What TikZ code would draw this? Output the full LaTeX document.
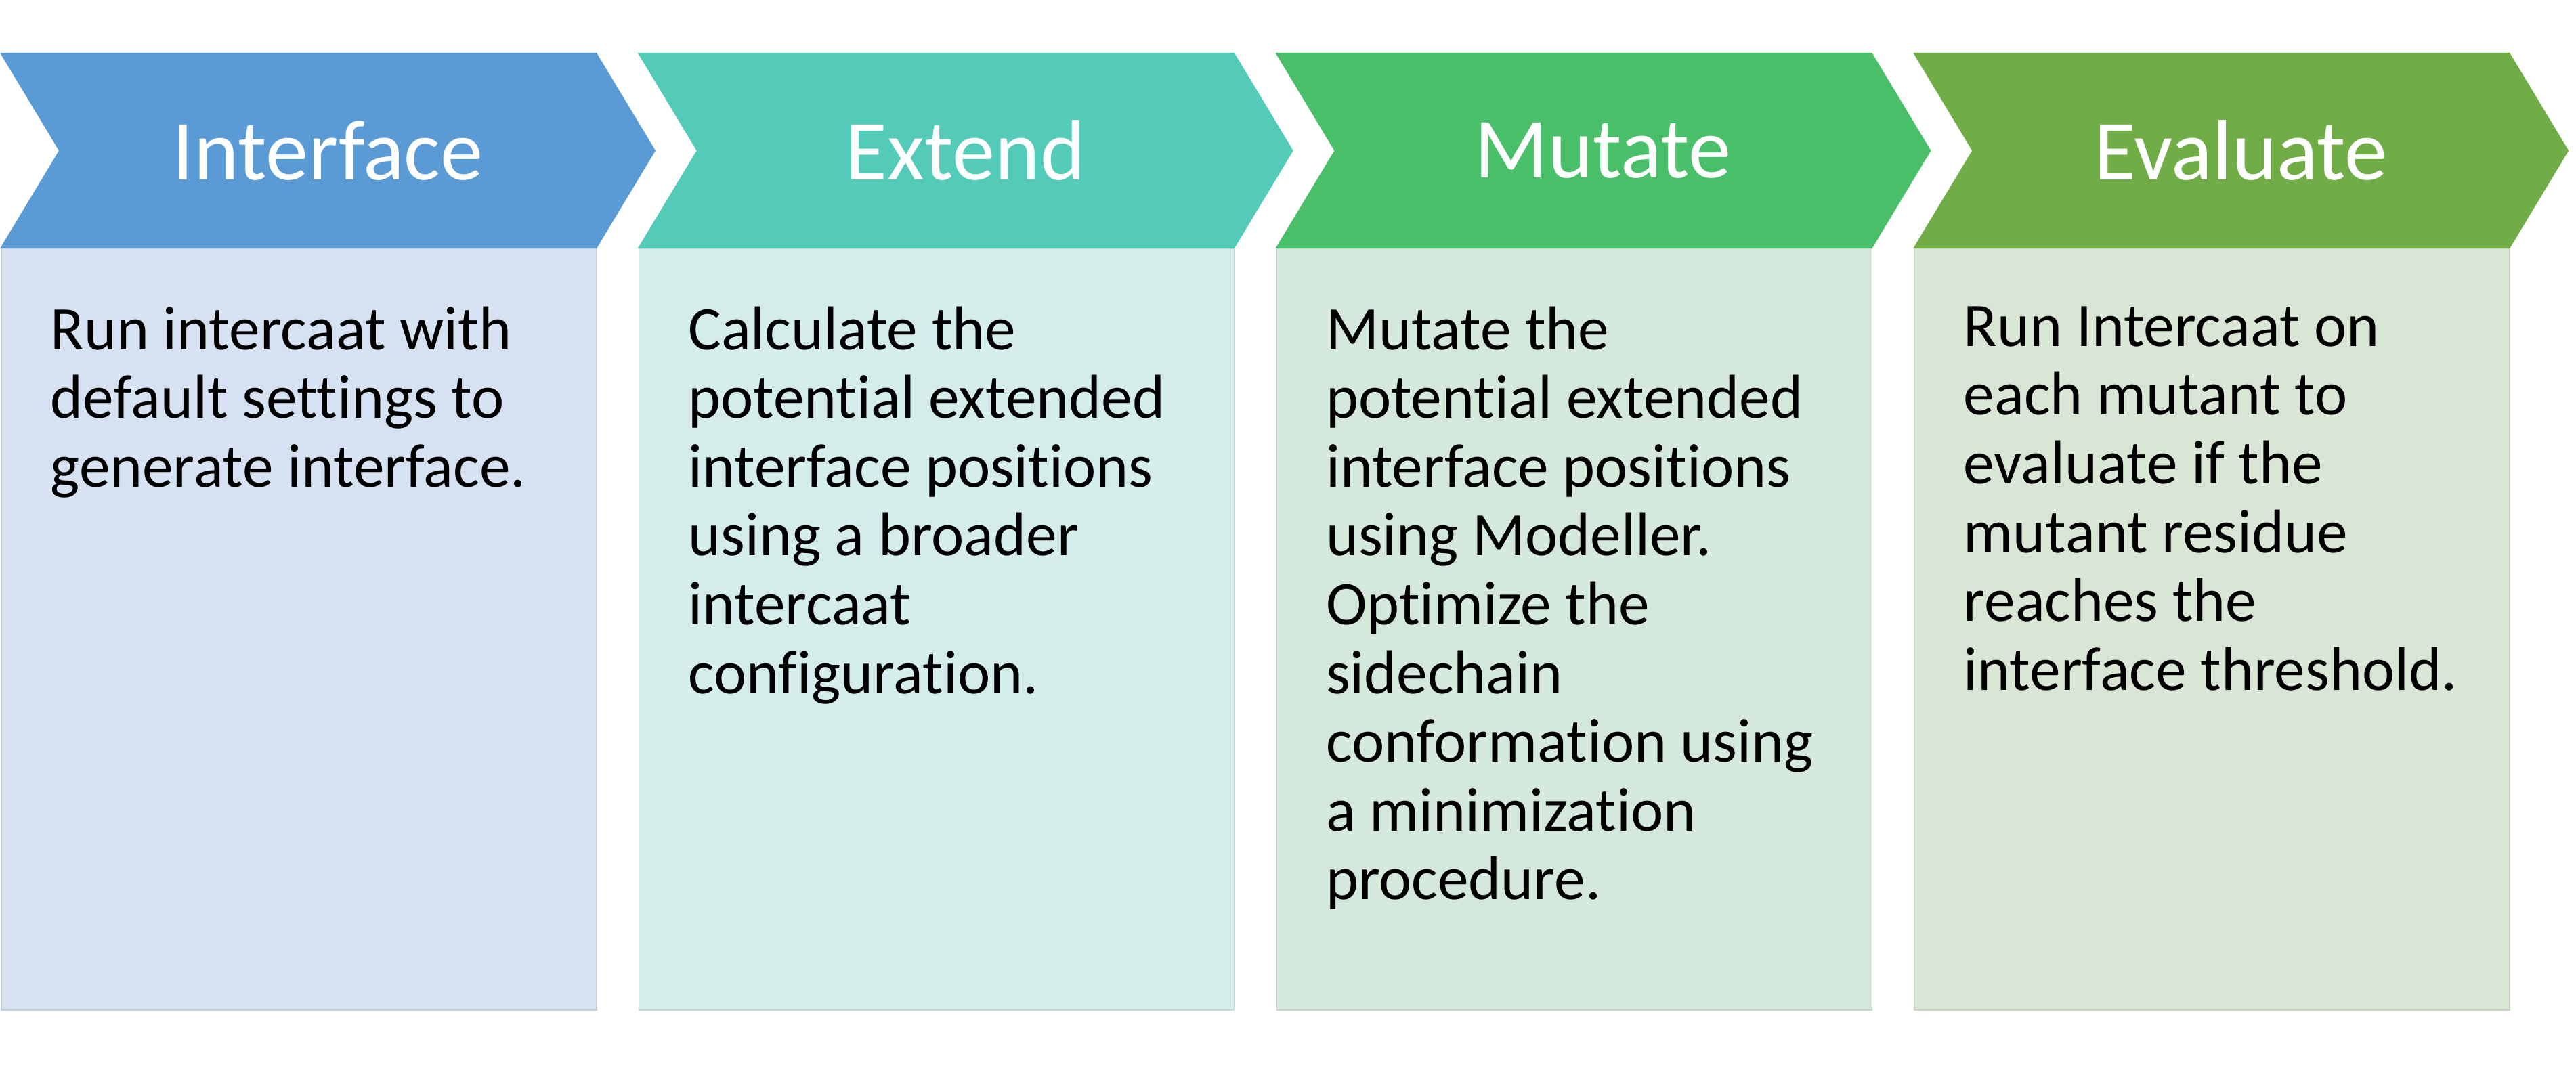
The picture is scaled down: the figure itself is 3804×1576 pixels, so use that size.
\documentclass[tikz,border=0pt]{standalone}
\usepackage{fontspec}
\setmainfont{Carlito}[Ligatures=NoCommon]
\usepackage{tikz}
\usetikzlibrary{math}

\definecolor{chevA}{HTML}{5B9BD5}
\definecolor{chevB}{HTML}{53CBB8}
\definecolor{chevC}{HTML}{4ABF69}
\definecolor{chevD}{HTML}{70AD47}
\definecolor{bodyA}{HTML}{D6E2F2}
\definecolor{bodyB}{HTML}{D5EDEA}
\definecolor{bodyC}{HTML}{D5E8DC}
\definecolor{bodyD}{HTML}{DAE6D5}

\begin{document}
\begin{tikzpicture}[x=0.1mm, y=-0.1mm,
    head/.style={text=white, inner sep=0pt, font=\fontsize{36pt}{43pt}\selectfont},
    listtext/.style={anchor=north west, align=left, inner sep=0pt, text=black,
      font=\fontsize{26pt}{28.9pt}\selectfont}]
          \tikzmath{
            \gap=941.7;
            \w=881;
            \tip=87;
            \ytop=78;
            \ymid=222.5;
            \ybot=367;
            \ylow=1492;
            \xa=0;
            \xb=\gap;
            \xc=2*\gap;
            \xd=3*\gap;}
          \useasboundingbox (0,0) rectangle (3804,1576);
          % list boxes below the chevrons
          \draw[fill=bodyA, draw=bodyA!92!black, line width=0.15mm] (\xa+2,\ybot) rectangle (\xa+\w,\ylow);
          \draw[fill=bodyB, draw=bodyB!92!black, line width=0.15mm] (\xb+2,\ybot) rectangle (\xb+\w,\ylow);
          \draw[fill=bodyC, draw=bodyC!92!black, line width=0.15mm] (\xc+2,\ybot) rectangle (\xc+\w,\ylow);
          \draw[fill=bodyD, draw=bodyD!92!black, line width=0.15mm] (\xd+2,\ybot) rectangle (\xd+\w,\ylow);
          % chevrons
          \fill[chevA] (\xa,\ytop) -- (\xa+\w,\ytop) -- (\xa+\w+\tip,\ymid) -- (\xa+\w,\ybot) -- (\xa,\ybot) -- (\xa+\tip,\ymid) -- cycle;
          \fill[chevB] (\xb,\ytop) -- (\xb+\w,\ytop) -- (\xb+\w+\tip,\ymid) -- (\xb+\w,\ybot) -- (\xb,\ybot) -- (\xb+\tip,\ymid) -- cycle;
          \fill[chevC] (\xc,\ytop) -- (\xc+\w,\ytop) -- (\xc+\w+\tip,\ymid) -- (\xc+\w,\ybot) -- (\xc,\ybot) -- (\xc+\tip,\ymid) -- cycle;
          \fill[chevD] (\xd,\ytop) -- (\xd+\w,\ytop) -- (\xd+\w+\tip,\ymid) -- (\xd+\w,\ybot) -- (\xd,\ybot) -- (\xd+\tip,\ymid) -- cycle;
          \node[head] (interface) at (\xa+484,\ymid) {Interface};
          \node[head] (extend) at (\xb+484,\ymid) {Extend};
          \node[head] (mutate) at (\xc+484,\ymid) {Mutate};
          \node[head] (evaluate) at (\xd+484,\ymid) {Evaluate};
          % list texts
          \node[listtext] (runtext) at (\xa+74,452) {Run intercaat with\\default settings to\\generate interface.};
          \node[listtext] (calctext) at (\xb+74,452) {Calculate the\\potential extended\\interface positions\\using a broader\\intercaat\\configuration.};
          \node[listtext] (mutatetext) at (\xc+74,452) {Mutate the\\potential extended\\interface positions\\using Modeller.\\Optimize the\\sidechain\\conformation using\\a minimization\\procedure.};
          \node[listtext] (evaltext) at (\xd+74,452) {Run Intercaat on\\each mutant to\\evaluate if the\\mutant residue\\reaches the\\interface threshold.};
        \end{tikzpicture}
\end{document}
